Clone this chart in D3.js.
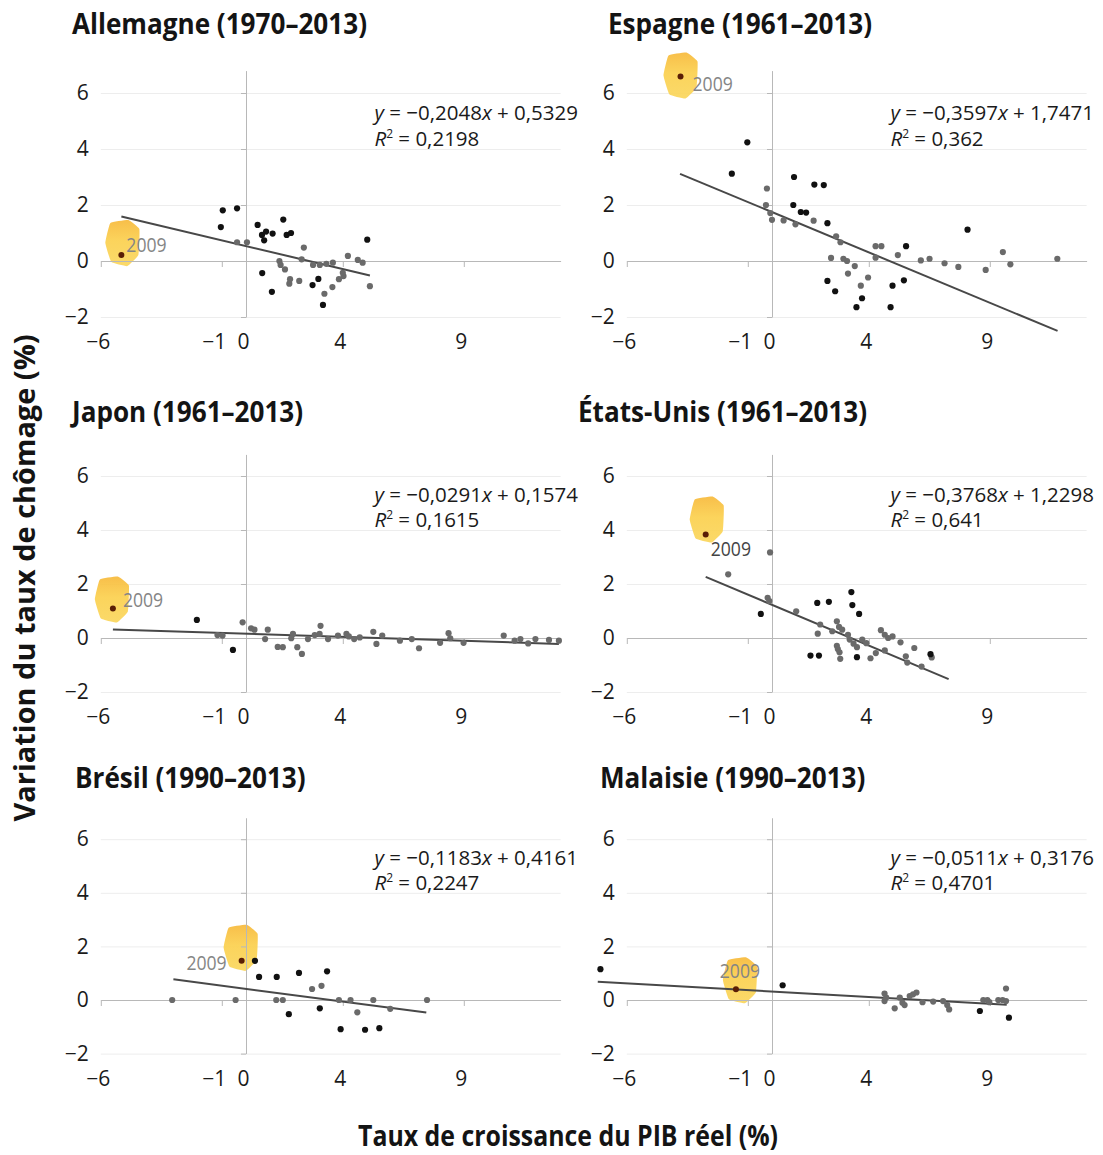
<!DOCTYPE html>
<html>
<head>
<meta charset="utf-8">
<script src="https://cdn.jsdelivr.net/npm/d3@7"></script>
<style>
  body { margin: 0; background: #fff; }
  text { font-family: "Open Sans", sans-serif; }
</style>
</head>
<body>
<svg id="chart" width="1103" height="1155"></svg>
<script>
// ---- data ----
const countries = ["Allemagne", "Espagne", "Japon", "États-Unis", "Brésil", "Malaisie"];
const periods = ["1970–2013", "1961–2013", "1961–2013", "1961–2013", "1990–2013", "1990–2013"];
const slopes = [-0.2048, -0.3597, -0.0291, -0.3768, -0.1183, -0.0511];
const intercepts = [0.5329, 1.7471, 0.1574, 1.2298, 0.4161, 0.3176];
const rSquared = [0.2198, 0.362, 0.1615, 0.641, 0.2247, 0.4701];
const trendRanges = [[-5.15, 5.12], [-3.8, 11.8], [-5.5, 12.93], [-2.74, 7.3], [-3.0, 7.45], [-7.2, 9.7]];
const xTicks = [-6, -1, 0, 4, 9];
const yTicks = [-2, 0, 2, 4, 6];
const points2009 = [[-5.15, 0.21], [-3.78, 6.59], [-5.5, 1.09], [-2.74, 3.83], [-0.18, 1.46], [-1.49, 0.4]];

const allemagneDark = [[-0.96,1.81],[-0.37,1.88],[-1.04,1.21],[0.48,1.29],[0.66,0.93],[0.83,1.05],[0.75,0.74],[1.1,0.98],[1.54,1.48],[1.68,0.93],[1.86,1.0],[0.67,-0.43],[1.07,-1.1],[2.75,-0.86],[2.99,-0.64],[3.18,-1.57],[5.01,0.76]];
const allemagneGray = [[-0.37,0.67],[0.04,0.67],[1.38,0],[1.43,-0.14],[1.61,-0.3],[1.82,-0.65],[1.79,-0.81],[2.2,-0.71],[2.39,0.48],[2.3,0.06],[2.77,-0.14],[3.05,-0.14],[3.32,-0.1],[3.59,-0.06],[3.24,-1.17],[3.57,-0.93],[3.84,-0.65],[4.03,-0.54],[4.0,-0.42],[4.21,0.18],[4.62,0.04],[4.82,-0.06],[5.12,-0.9]];
const espagneDark = [[-1.02,4.24],[-1.66,3.12],[0.91,3.0],[1.75,2.73],[2.14,2.71],[0.88,2.0],[1.19,1.75],[1.41,1.73],[2.29,1.35],[8.08,1.12],[5.54,0.53],[2.29,-0.71],[2.61,-1.08],[3.72,-1.33],[3.49,-1.65],[4.98,-0.88],[5.45,-0.69],[4.9,-1.65]];
const espagneGray = [[-0.21,2.59],[-0.25,2.0],[-0.07,1.71],[0,1.47],[0.48,1.45],[0.97,1.31],[1.72,1.44],[2.65,0.88],[2.83,0.67],[2.44,0.11],[2.95,0.08],[3.1,0],[3.42,-0.18],[3.14,-0.45],[3.97,-0.59],[3.67,-0.88],[4.28,0.53],[4.52,0.53],[4.28,0.12],[5.2,0.21],[6.15,0.02],[6.51,0.08],[7.13,-0.08],[7.7,-0.21],[8.83,-0.32],[9.54,0.32],[9.85,-0.12],[11.79,0.08]];
const japonDark = [[-2.03,0.67],[-0.54,-0.44]];
const japonGray = [[-0.14,0.58],[-1.18,0.11],[-0.97,0.09],[0.21,0.36],[0.35,0.31],[0.9,0.31],[0.79,-0.04],[1.31,-0.33],[1.52,-0.34],[1.94,0.15],[1.87,-0.01],[2.12,-0.34],[2.31,-0.59],[2.56,-0.04],[2.84,0.11],[3.08,0.45],[3.04,0.15],[3.39,-0.04],[3.8,0.09],[4.15,0.15],[4.25,0.06],[4.47,-0.04],[4.7,0.02],[5.26,0.23],[5.39,-0.22],[5.63,0.09],[6.36,-0.1],[6.85,-0.04],[7.15,-0.38],[8.02,-0.18],[8.37,0.18],[8.44,-0.01],[8.99,-0.18],[10.65,0.09],[11.1,-0.1],[11.34,-0.04],[11.66,-0.2],[11.96,-0.04],[12.52,-0.07],[12.93,-0.1]];
const usaDark = [[-0.46,0.89],[1.87,1.3],[2.35,1.34],[3.28,1.7],[3.32,1.22],[3.6,0.89],[1.59,-0.65],[1.94,-0.65],[3.51,-0.71],[6.55,-0.6]];
const usaGray = [[-0.08,3.17],[-1.81,2.36],[-0.18,1.49],[-0.11,1.37],[1.0,0.99],[1.99,0.5],[1.89,0.16],[2.49,0.25],[2.68,0.62],[2.77,0.41],[2.9,0.31],[2.68,-0.29],[2.72,-0.41],[2.79,-0.53],[2.82,-0.77],[3.14,0.12],[3.21,-0.06],[3.37,-0.21],[3.51,-0.34],[3.73,-0.06],[3.9,-0.19],[4.07,-0.75],[4.29,-0.56],[4.5,0.29],[4.66,0.12],[4.8,0],[4.98,0.06],[4.66,-0.46],[5.31,-0.16],[5.53,-0.68],[5.59,-0.91],[5.88,-0.37],[6.18,-1.06],[6.6,-0.72]];
const bresilDark = [[0.37,1.46],[0.54,0.86],[1.27,0.86],[2.19,1.01],[3.35,1.07],[3.05,-0.31],[1.77,-0.53],[3.91,-1.09],[4.92,-1.11],[5.51,-1.05]];
const bresilGray = [[-3.05,0],[-0.43,0],[1.25,0],[1.52,0],[2.73,0.41],[3.12,0.53],[3.84,0],[4.32,0],[5.26,0],[4.6,-0.46],[5.96,-0.33],[7.48,0]];
const malaisieDark = [[-7.09,1.15],[0.44,0.55],[8.59,-0.41],[9.79,-0.66]];
const malaisieGray = [[4.65,0.24],[4.72,0.09],[4.65,-0.04],[5.07,-0.31],[5.28,0.09],[5.39,-0.1],[5.48,-0.19],[5.69,0.15],[5.83,0.21],[5.97,0.28],[6.22,-0.08],[6.66,-0.06],[7.07,-0.04],[7.24,-0.19],[7.32,-0.35],[8.73,0],[8.9,0],[8.98,-0.08],[9.35,0],[9.53,0],[9.67,0.43],[9.67,-0.04]];

const darkPoints = [allemagneDark, espagneDark, japonDark, usaDark, bresilDark, malaisieDark];
const grayPoints = [allemagneGray, espagneGray, japonGray, usaGray, bresilGray, malaisieGray];

// ---- layout ----
const colX0 = [246, 772];          // pixel of x = 0 in each column
const eqShift = [5, -5];
const xUnit = 24.2;
const rows = [
    { y0: 261, u: 28, title: 34 },
    { y0: 638, u: 27, title: 422 },
    { y0: 1000, u: 26.8, title: 788 }
];
const titleX = [72, 608, 72, 578, 75, 600];
const labelPos = [[5, -3, "start"], [12, 15, "start"], [10, -2, "start"], [5, 21, "start"], [-15, 9, "end"], [4, -11, "middle"]];
const blobShift = [[2, -8], [1, 3], [0, -5], [2, -11], [0, -9], [5, -5]];
const blobShape = [[-13, -24], [5, -27], [16, -18], [15, 8], [4, 19], [-12, 15], [-18, -4]];

const num = v => (v < 0 ? "\u2212" : "") + String(Math.abs(v)).replace(".", ",");

function squeeze(sel, f) {
    sel.each(function () {
        var len = this.getComputedTextLength();
        d3.select(this).attr("textLength", len * f).attr("lengthAdjust", "spacingAndGlyphs");
    });
}

const svg = d3.select("#chart");
const defs = svg.append("defs");
var grad = defs.append("linearGradient").attr("id", "blob").attr("x1", 0).attr("y1", 0).attr("x2", 0).attr("y2", 1);
grad.append("stop").attr("offset", "0%").attr("stop-color", "#f7b93a");
grad.append("stop").attr("offset", "45%").attr("stop-color", "#fbd04e");
grad.append("stop").attr("offset", "100%").attr("stop-color", "#fad65c");

const blobLine = d3.line().curve(d3.curveCardinalClosed.tension(0.7));

countries.forEach(function (name, i) {
    var row = rows[Math.floor(i / 2)];
    var x0 = colX0[i % 2];
    var x = d3.scaleLinear().domain([-6, 13]).range([x0 - 6 * xUnit, x0 + 13 * xUnit]);
    var y = d3.scaleLinear().domain([-2, 6.8]).range([row.y0 + 2 * row.u, row.y0 - 6.8 * row.u]);
    var g = svg.append("g");

    // faint horizontal grid
    g.append("g")
        .attr("transform", `translate(${x(-6)},0)`)
        .call(d3.axisLeft(y).tickValues([-2, 2, 4, 6]).tickSize(-(x(13) - x(-6))).tickFormat(""))
        .call(a => a.select(".domain").remove())
        .selectAll("line").attr("stroke", "#ededed");

    // 2009 highlight
    var p = points2009[i];
    var cx = x(p[0]) + blobShift[i][0], cy = y(p[1]) + blobShift[i][1];
    g.append("path")
        .attr("d", blobLine(blobShape.map(d => [cx + d[0], cy + d[1]])))
        .attr("fill", "url(#blob)")
        .attr("opacity", 0.92);

    // axes through the origin
    g.append("g")
        .attr("transform", `translate(0,${y(0)})`)
        .call(d3.axisBottom(x).tickValues([-6, -1, 4, 9]).tickSize(6).tickSizeOuter(0).tickFormat(""))
        .call(a => a.selectAll("path,line").attr("stroke", "#b8b8b8"));
    g.append("g")
        .attr("transform", `translate(${x(0)},0)`)
        .call(d3.axisLeft(y).tickValues([-2, 2, 4, 6]).tickSize(5).tickSizeOuter(0).tickFormat(""))
        .call(a => a.selectAll("path,line").attr("stroke", "#b8b8b8"));

    // tick labels
    var xl = g.append("g")
        .attr("transform", `translate(-3,${y(-2)})`)
        .call(d3.axisBottom(x).tickValues(xTicks).tickSize(0).tickPadding(17))
        .call(a => a.select(".domain").remove());
    xl.attr("font-size", 21).attr("font-family", "Open Sans").selectAll("text").attr("fill", "#1a1a1a");
    xl.selectAll(".tick").filter(d => d === -1).select("text").attr("dx", "-5");
    var yl = g.append("g")
        .attr("transform", `translate(${x(-6) - 12},0)`)
        .call(d3.axisLeft(y).tickValues(yTicks).tickSize(0).tickPadding(0))
        .call(a => a.select(".domain").remove());
    yl.attr("font-size", 21).attr("font-family", "Open Sans").selectAll("text").attr("fill", "#1a1a1a");

    // trend line
    var tr = trendRanges[i];
    g.append("line")
        .attr("x1", x(tr[0])).attr("y1", y(slopes[i] * tr[0] + intercepts[i]))
        .attr("x2", x(tr[1])).attr("y2", y(slopes[i] * tr[1] + intercepts[i]))
        .attr("stroke", "#484848")
        .attr("stroke-width", 2);

    // points
    g.selectAll(".gray").data(grayPoints[i]).enter().append("circle")
        .attr("cx", d => x(d[0])).attr("cy", d => y(d[1])).attr("r", 3.1)
        .attr("fill", "#6a6a6a");
    g.selectAll(".dark").data(darkPoints[i]).enter().append("circle")
        .attr("cx", d => x(d[0])).attr("cy", d => y(d[1])).attr("r", 3.1)
        .attr("fill", "#111");
    g.append("circle")
        .attr("cx", x(p[0])).attr("cy", y(p[1])).attr("r", 3)
        .attr("fill", "#5a1e05");
    var lab = g.append("text")
        .attr("x", x(p[0]) + labelPos[i][0])
        .attr("y", y(p[1]) + labelPos[i][1])
        .attr("text-anchor", labelPos[i][2])
        .attr("font-size", 20)
        .attr("fill", i === 3 ? "#444" : "#858585")
        .text("2009");
    squeeze(lab, 0.88);

    // equation
    var ex = x(5.1) + eqShift[i % 2];
    var eq = g.append("text")
        .attr("x", ex).attr("y", y(5.05))
        .attr("font-size", 20.5).attr("fill", "#1a1a1a");
    eq.append("tspan").attr("font-style", "italic").text("y");
    eq.append("tspan").text(" = " + num(slopes[i]));
    eq.append("tspan").attr("font-style", "italic").text("x");
    eq.append("tspan").text(" + " + num(intercepts[i]));
    var r2 = g.append("text")
        .attr("x", ex).attr("y", y(4.1))
        .attr("font-size", 20.5).attr("fill", "#1a1a1a");
    r2.append("tspan").attr("font-style", "italic").text("R");
    r2.append("tspan").attr("font-size", 12).attr("dy", -8).text("2");
    r2.append("tspan").attr("dy", 8).text(" = " + num(rSquared[i]));

    // title
    var t = svg.append("text")
        .attr("x", titleX[i]).attr("y", row.title)
        .attr("font-size", 29).attr("font-weight", 700).attr("fill", "#141414")
        .text(name + " (" + periods[i] + ")");
    squeeze(t, 0.9);
});

// axis titles
svg.append("text")
    .attr("x", 568).attr("y", 1146)
    .attr("text-anchor", "middle")
    .attr("font-size", 28).attr("font-weight", 700).attr("fill", "#141414")
    .attr("textLength", 420).attr("lengthAdjust", "spacingAndGlyphs")
    .text("Taux de croissance du PIB réel (%)");
svg.append("text")
    .attr("transform", "translate(35,578) rotate(-90)")
    .attr("text-anchor", "middle")
    .attr("font-size", 28).attr("font-weight", 700).attr("fill", "#141414")
    .attr("textLength", 487).attr("lengthAdjust", "spacingAndGlyphs")
    .text("Variation du taux de chômage (%)");
</script>
</body>
</html>
